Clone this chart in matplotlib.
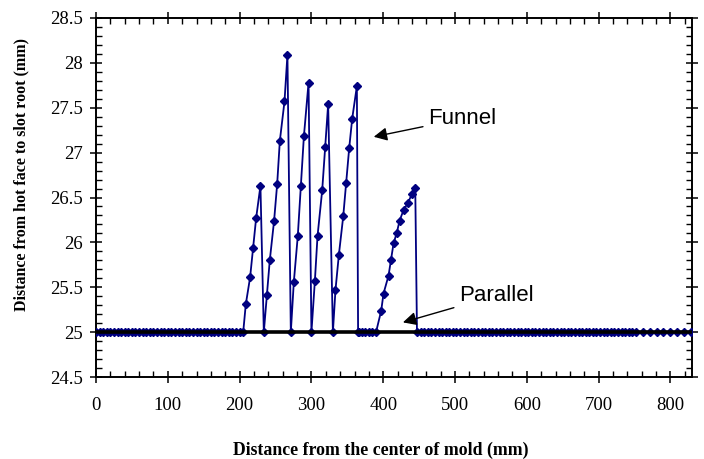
import matplotlib
matplotlib.use('Agg')
from matplotlib import pyplot as plt
from matplotlib import ticker

# flat stretches of the funnel profile (25 mm everywhere outside the slots)
flat_x = [
    0, 5, 10, 15, 20, 25, 30, 35, 40, 45, 50, 55, 60, 65, 70, 75, 80, 85, 90, 95,
    100, 105, 110, 115, 120, 125, 130, 135, 140, 145, 150, 155, 160, 165, 170, 175,
    180, 185, 190, 195, 200, 205,
    365, 370, 375, 380, 385, 390,
    447, 452, 457, 462, 467, 472, 477, 482, 487, 492, 497, 502, 507, 512, 517, 522,
    527, 532, 537, 542, 547, 552, 557, 562, 567, 572, 577, 582, 587, 592, 597, 602,
    607, 612, 617, 622, 627, 632, 637, 642, 647, 652, 657, 662, 667, 672, 677, 682,
    687, 692, 697, 702, 707, 712, 717, 722, 727, 732, 737, 742, 747, 752,
    762, 771, 781, 790, 800, 809, 819, 828,
]
flat_level = 25.0

# the rising ramps, each one ends with a drop back to 25
ramp_x = [
    [208.6, 214.6, 218.8, 223.0, 229.0, 233.7],
    [237.9, 242.0, 248.0, 252.3, 256.0, 262.5, 266.6, 271.3],
    [275.5, 281.0, 285.3, 289.5, 296.0, 300.0],
    [304.8, 308.5, 315.0, 319.2, 323.3, 329.9],
    [333.5, 338.2, 344.3, 348.4, 352.6, 356.8, 363.3, 365.6],
    [397.2, 400.4, 407.4, 410.7, 414.4, 419.0, 422.7, 428.3, 434.4, 440.0, 444.6, 447.0],
]
ramp_y = [
    [25.31, 25.61, 25.94, 26.27, 26.63, 25.0],
    [25.41, 25.80, 26.24, 26.65, 27.13, 27.57, 28.09, 25.0],
    [25.56, 26.07, 26.63, 27.18, 27.78, 25.0],
    [25.57, 26.07, 26.58, 27.06, 27.54, 25.0],
    [25.47, 25.86, 26.29, 26.66, 27.05, 27.38, 27.74, 25.0],
    [25.24, 25.43, 25.63, 25.80, 25.99, 26.11, 26.24, 26.36, 26.44, 26.54, 26.61, 25.0],
]

parallel_x = [0, 830]
parallel_y = [25.0, 25.0]

# merge flat points and ramps into one profile ordered along x
points = {x: flat_level for x in flat_x}
for xs, ys in zip(ramp_x, ramp_y):
    for x, y in zip(xs, ys):
        points[x] = y
funnel_x = sorted(points)
funnel_y = [points[x] for x in funnel_x]

plt.rcParams['font.family'] = ['Liberation Serif', 'DejaVu Serif']

fig = plt.figure(figsize=(7.04, 4.59), dpi=100)
ax = fig.add_axes([96 / 704, 1 - 377 / 459, 596 / 704, 359 / 459])

ax.plot(funnel_x, funnel_y, color='#000080', lw=1.3, marker='D', ms=3.6,
        mec='#000080', mfc='#000080', zorder=3)
ax.plot(parallel_x, parallel_y, color='black', lw=2.6, zorder=4, solid_capstyle='butt')

ax.set_xlim(0, 830)
ax.set_ylim(24.5, 28.5)
ax.xaxis.set_major_locator(ticker.MultipleLocator(100))
ax.xaxis.set_minor_locator(ticker.MultipleLocator(20))
ax.yaxis.set_major_locator(ticker.MultipleLocator(0.5))
ax.yaxis.set_minor_locator(ticker.MultipleLocator(0.1))
ax.yaxis.set_major_formatter(ticker.FormatStrFormatter('%g'))

ax.tick_params(which='major', direction='inout', length=9, width=1.1,
               labelsize=13.5, top=True, right=True)
ax.tick_params(axis='x', which='major', pad=10)
ax.tick_params(axis='y', which='major', pad=5)
ax.tick_params(which='minor', direction='in', length=4.5, width=1.0,
               top=True, right=True)
for sp in ax.spines.values():
    sp.set_linewidth(1.4)

ax.set_xlabel('Distance from the center of mold (mm)', fontsize=12.8,
              fontweight='bold')
ax.set_ylabel('Distance from hot face to slot root (mm)', fontsize=11.5,
              fontweight='bold')
ax.xaxis.set_label_coords(0.477, -0.18)
ax.yaxis.set_label_coords(-0.111, 0.565)

arrow = dict(arrowstyle='-|>', color='black', lw=1.0, mutation_scale=20)
ax.annotate('Funnel', xy=(383, 27.17), xytext=(463, 27.38), fontsize=16,
            family='Liberation Sans', va='center', ha='left', arrowprops=arrow)
ax.annotate('Parallel', xy=(423.7, 25.10), xytext=(506, 25.41), fontsize=16,
            family='Liberation Sans', va='center', ha='left', arrowprops=arrow)

fig.savefig('out.png', dpi=100)
